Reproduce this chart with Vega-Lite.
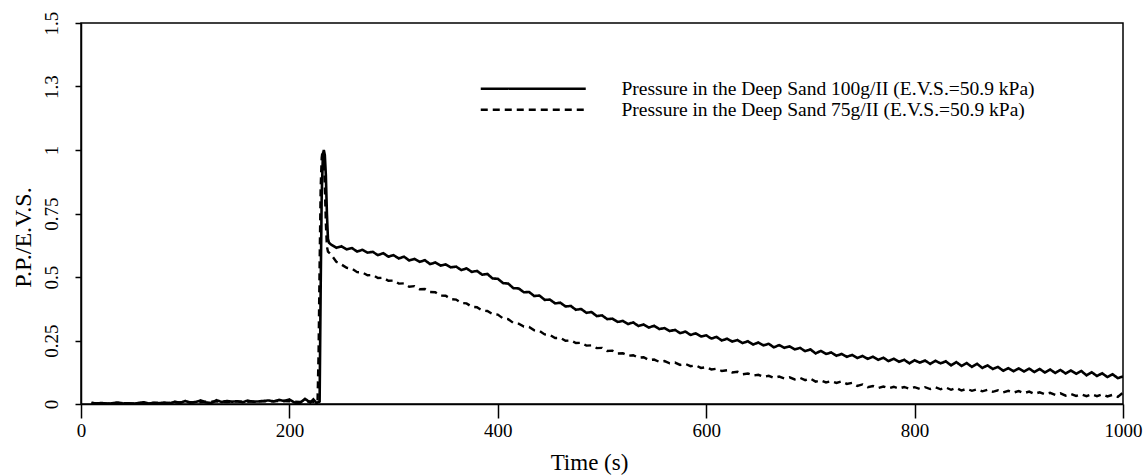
{
"$schema":"https://vega.github.io/schema/vega-lite/v6.json",
"width":1042,"height":381,
"autosize":{"type":"none"},
"padding":{"left":81,"top":23,"right":23,"bottom":72},
"background":"white",
"config":{"font":"Liberation Serif","view":{"stroke":"black","strokeWidth":1.5},
"axis":{"grid":false,"domainColor":"black","domainWidth":1.5,"tickColor":"black","tickWidth":1.5,"labelColor":"black","titleColor":"black","titleFontWeight":"normal","labelFlush":false,"labelOverlap":false}},
"data":{"values":[
{"s":"100","t":10,"v":0.005},{"s":"100","t":15,"v":0.002},{"s":"100","t":20,"v":0.004},{"s":"100","t":25,"v":0.001},{"s":"100","t":30,"v":0.003},{"s":"100","t":35,"v":0.006},{"s":"100","t":40,"v":0.002},{"s":"100","t":45,"v":0.003},{"s":"100","t":50,"v":0.001},{"s":"100","t":55,"v":0.004},{"s":"100","t":60,"v":0.007},{"s":"100","t":65,"v":0.002},{"s":"100","t":70,"v":0.004},{"s":"100","t":75,"v":0.003},{"s":"100","t":80,"v":0.006},{"s":"100","t":85,"v":0.002},{"s":"100","t":90,"v":0.009},{"s":"100","t":95,"v":0.004},{"s":"100","t":100,"v":0.012},{"s":"100","t":105,"v":0.005},{"s":"100","t":110,"v":0.008},{"s":"100","t":115,"v":0.014},{"s":"100","t":120,"v":0.006},{"s":"100","t":125,"v":0.004},{"s":"100","t":130,"v":0.015},{"s":"100","t":135,"v":0.008},{"s":"100","t":140,"v":0.012},{"s":"100","t":145,"v":0.009},{"s":"100","t":150,"v":0.011},{"s":"100","t":155,"v":0.007},{"s":"100","t":160,"v":0.013},{"s":"100","t":165,"v":0.009},{"s":"100","t":170,"v":0.010},{"s":"100","t":175,"v":0.012},{"s":"100","t":180,"v":0.014},{"s":"100","t":185,"v":0.010},{"s":"100","t":190,"v":0.016},{"s":"100","t":195,"v":0.012},{"s":"100","t":200,"v":0.018},{"s":"100","t":205,"v":0.006},{"s":"100","t":210,"v":0.004},{"s":"100","t":215,"v":0.020},{"s":"100","t":220,"v":0.006},{"s":"100","t":223,"v":0.018},{"s":"100","t":226,"v":0.004},{"s":"100","t":229,"v":0.010},{"s":"100","t":230,"v":0.45},{"s":"100","t":231,"v":0.82},{"s":"100","t":232,"v":0.96},{"s":"100","t":233,"v":1.0},{"s":"100","t":234,"v":0.98},{"s":"100","t":235,"v":0.90},{"s":"100","t":236,"v":0.75},{"s":"100","t":237,"v":0.65},{"s":"100","t":238,"v":0.635},
{"s":"100","t":240,"v":0.628},{"s":"100","t":245,"v":0.615},{"s":"100","t":250,"v":0.621},{"s":"100","t":255,"v":0.609},{"s":"100","t":260,"v":0.614},{"s":"100","t":265,"v":0.600},{"s":"100","t":270,"v":0.607},{"s":"100","t":275,"v":0.596},{"s":"100","t":280,"v":0.599},{"s":"100","t":285,"v":0.586},{"s":"100","t":290,"v":0.594},{"s":"100","t":295,"v":0.580},{"s":"100","t":300,"v":0.586},{"s":"100","t":305,"v":0.573},{"s":"100","t":310,"v":0.580},{"s":"100","t":315,"v":0.565},{"s":"100","t":320,"v":0.571},{"s":"100","t":325,"v":0.560},{"s":"100","t":330,"v":0.566},{"s":"100","t":335,"v":0.551},{"s":"100","t":340,"v":0.557},{"s":"100","t":345,"v":0.545},{"s":"100","t":350,"v":0.550},{"s":"100","t":355,"v":0.538},{"s":"100","t":360,"v":0.541},{"s":"100","t":365,"v":0.527},{"s":"100","t":370,"v":0.534},{"s":"100","t":375,"v":0.520},{"s":"100","t":380,"v":0.524},{"s":"100","t":385,"v":0.509},{"s":"100","t":390,"v":0.512},{"s":"100","t":395,"v":0.494},{"s":"100","t":400,"v":0.493},{"s":"100","t":405,"v":0.476},{"s":"100","t":410,"v":0.474},{"s":"100","t":415,"v":0.456},{"s":"100","t":420,"v":0.455},{"s":"100","t":425,"v":0.440},{"s":"100","t":430,"v":0.441},{"s":"100","t":435,"v":0.425},{"s":"100","t":440,"v":0.427},{"s":"100","t":445,"v":0.410},{"s":"100","t":450,"v":0.411},{"s":"100","t":455,"v":0.396},{"s":"100","t":460,"v":0.399},{"s":"100","t":465,"v":0.384},{"s":"100","t":470,"v":0.386},{"s":"100","t":475,"v":0.371},{"s":"100","t":480,"v":0.374},{"s":"100","t":485,"v":0.359},{"s":"100","t":490,"v":0.362},{"s":"100","t":495,"v":0.346},{"s":"100","t":500,"v":0.349},{"s":"100","t":505,"v":0.334},{"s":"100","t":510,"v":0.336},{"s":"100","t":515,"v":0.323},{"s":"100","t":520,"v":0.327},{"s":"100","t":525,"v":0.315},{"s":"100","t":530,"v":0.321},{"s":"100","t":535,"v":0.307},{"s":"100","t":540,"v":0.313},{"s":"100","t":545,"v":0.301},{"s":"100","t":550,"v":0.308},{"s":"100","t":555,"v":0.295},{"s":"100","t":560,"v":0.299},{"s":"100","t":565,"v":0.287},{"s":"100","t":570,"v":0.292},{"s":"100","t":575,"v":0.279},{"s":"100","t":580,"v":0.285},{"s":"100","t":585,"v":0.272},{"s":"100","t":590,"v":0.278},{"s":"100","t":595,"v":0.266},{"s":"100","t":600,"v":0.270},{"s":"100","t":605,"v":0.258},{"s":"100","t":610,"v":0.264},{"s":"100","t":615,"v":0.250},{"s":"100","t":620,"v":0.257},{"s":"100","t":625,"v":0.246},{"s":"100","t":630,"v":0.252},{"s":"100","t":635,"v":0.240},{"s":"100","t":640,"v":0.247},{"s":"100","t":645,"v":0.234},{"s":"100","t":650,"v":0.242},{"s":"100","t":655,"v":0.231},{"s":"100","t":660,"v":0.237},{"s":"100","t":665,"v":0.223},{"s":"100","t":670,"v":0.232},{"s":"100","t":675,"v":0.221},{"s":"100","t":680,"v":0.227},{"s":"100","t":685,"v":0.215},{"s":"100","t":690,"v":0.221},{"s":"100","t":695,"v":0.208},{"s":"100","t":700,"v":0.215},{"s":"100","t":705,"v":0.199},{"s":"100","t":710,"v":0.209},{"s":"100","t":715,"v":0.197},{"s":"100","t":720,"v":0.203},{"s":"100","t":725,"v":0.190},{"s":"100","t":730,"v":0.197},{"s":"100","t":735,"v":0.186},{"s":"100","t":740,"v":0.193},{"s":"100","t":745,"v":0.181},{"s":"100","t":750,"v":0.189},{"s":"100","t":755,"v":0.178},{"s":"100","t":760,"v":0.186},{"s":"100","t":765,"v":0.174},{"s":"100","t":770,"v":0.182},{"s":"100","t":775,"v":0.169},{"s":"100","t":780,"v":0.178},{"s":"100","t":785,"v":0.166},{"s":"100","t":790,"v":0.174},{"s":"100","t":795,"v":0.160},{"s":"100","t":800,"v":0.172},{"s":"100","t":805,"v":0.163},{"s":"100","t":810,"v":0.171},{"s":"100","t":815,"v":0.158},{"s":"100","t":820,"v":0.170},{"s":"100","t":825,"v":0.160},{"s":"100","t":830,"v":0.168},{"s":"100","t":835,"v":0.152},{"s":"100","t":840,"v":0.165},{"s":"100","t":845,"v":0.150},{"s":"100","t":850,"v":0.161},{"s":"100","t":855,"v":0.146},{"s":"100","t":860,"v":0.158},{"s":"100","t":865,"v":0.142},{"s":"100","t":870,"v":0.152},{"s":"100","t":875,"v":0.138},{"s":"100","t":880,"v":0.146},{"s":"100","t":885,"v":0.131},{"s":"100","t":890,"v":0.141},{"s":"100","t":895,"v":0.129},{"s":"100","t":900,"v":0.140},{"s":"100","t":905,"v":0.128},{"s":"100","t":910,"v":0.139},{"s":"100","t":915,"v":0.126},{"s":"100","t":920,"v":0.138},{"s":"100","t":925,"v":0.124},{"s":"100","t":930,"v":0.136},{"s":"100","t":935,"v":0.122},{"s":"100","t":940,"v":0.134},{"s":"100","t":945,"v":0.120},{"s":"100","t":950,"v":0.132},{"s":"100","t":955,"v":0.119},{"s":"100","t":960,"v":0.130},{"s":"100","t":965,"v":0.113},{"s":"100","t":970,"v":0.125},{"s":"100","t":975,"v":0.110},{"s":"100","t":980,"v":0.121},{"s":"100","t":985,"v":0.106},{"s":"100","t":990,"v":0.117},{"s":"100","t":995,"v":0.102},{"s":"100","t":1000,"v":0.108},
{"s":"75","t":10,"v":0.002},{"s":"75","t":20,"v":0.003},{"s":"75","t":30,"v":0.001},{"s":"75","t":40,"v":0.004},{"s":"75","t":50,"v":0.002},{"s":"75","t":60,"v":0.003},{"s":"75","t":70,"v":0.005},{"s":"75","t":80,"v":0.003},{"s":"75","t":90,"v":0.006},{"s":"75","t":100,"v":0.008},{"s":"75","t":110,"v":0.006},{"s":"75","t":120,"v":0.009},{"s":"75","t":130,"v":0.010},{"s":"75","t":140,"v":0.008},{"s":"75","t":150,"v":0.010},{"s":"75","t":160,"v":0.009},{"s":"75","t":170,"v":0.011},{"s":"75","t":180,"v":0.010},{"s":"75","t":190,"v":0.012},{"s":"75","t":200,"v":0.011},{"s":"75","t":210,"v":0.008},{"s":"75","t":220,"v":0.010},{"s":"75","t":227,"v":0.008},{"s":"75","t":228,"v":0.2},{"s":"75","t":229,"v":0.55},{"s":"75","t":230,"v":0.85},{"s":"75","t":231,"v":0.97},{"s":"75","t":232,"v":1.0},{"s":"75","t":233,"v":0.97},{"s":"75","t":234,"v":0.86},{"s":"75","t":235,"v":0.71},{"s":"75","t":236,"v":0.62},{"s":"75","t":237,"v":0.60},
{"s":"75","t":240,"v":0.588},{"s":"75","t":245,"v":0.560},{"s":"75","t":250,"v":0.549},{"s":"75","t":255,"v":0.536},{"s":"75","t":260,"v":0.533},{"s":"75","t":265,"v":0.519},{"s":"75","t":270,"v":0.518},{"s":"75","t":275,"v":0.507},{"s":"75","t":280,"v":0.508},{"s":"75","t":285,"v":0.496},{"s":"75","t":290,"v":0.497},{"s":"75","t":295,"v":0.485},{"s":"75","t":300,"v":0.486},{"s":"75","t":305,"v":0.474},{"s":"75","t":310,"v":0.475},{"s":"75","t":315,"v":0.462},{"s":"75","t":320,"v":0.464},{"s":"75","t":325,"v":0.452},{"s":"75","t":330,"v":0.453},{"s":"75","t":335,"v":0.441},{"s":"75","t":340,"v":0.440},{"s":"75","t":345,"v":0.427},{"s":"75","t":350,"v":0.426},{"s":"75","t":355,"v":0.413},{"s":"75","t":360,"v":0.411},{"s":"75","t":365,"v":0.398},{"s":"75","t":370,"v":0.396},{"s":"75","t":375,"v":0.383},{"s":"75","t":380,"v":0.381},{"s":"75","t":385,"v":0.368},{"s":"75","t":390,"v":0.366},{"s":"75","t":395,"v":0.354},{"s":"75","t":400,"v":0.352},{"s":"75","t":405,"v":0.337},{"s":"75","t":410,"v":0.334},{"s":"75","t":415,"v":0.319},{"s":"75","t":420,"v":0.316},{"s":"75","t":425,"v":0.305},{"s":"75","t":430,"v":0.303},{"s":"75","t":435,"v":0.290},{"s":"75","t":440,"v":0.288},{"s":"75","t":445,"v":0.274},{"s":"75","t":450,"v":0.272},{"s":"75","t":455,"v":0.260},{"s":"75","t":460,"v":0.260},{"s":"75","t":465,"v":0.249},{"s":"75","t":470,"v":0.250},{"s":"75","t":475,"v":0.240},{"s":"75","t":480,"v":0.241},{"s":"75","t":485,"v":0.230},{"s":"75","t":490,"v":0.231},{"s":"75","t":495,"v":0.220},{"s":"75","t":500,"v":0.221},{"s":"75","t":505,"v":0.209},{"s":"75","t":510,"v":0.210},{"s":"75","t":515,"v":0.199},{"s":"75","t":520,"v":0.200},{"s":"75","t":525,"v":0.190},{"s":"75","t":530,"v":0.192},{"s":"75","t":535,"v":0.182},{"s":"75","t":540,"v":0.184},{"s":"75","t":545,"v":0.173},{"s":"75","t":550,"v":0.175},{"s":"75","t":555,"v":0.166},{"s":"75","t":560,"v":0.169},{"s":"75","t":565,"v":0.160},{"s":"75","t":570,"v":0.163},{"s":"75","t":575,"v":0.154},{"s":"75","t":580,"v":0.158},{"s":"75","t":585,"v":0.149},{"s":"75","t":590,"v":0.152},{"s":"75","t":595,"v":0.142},{"s":"75","t":600,"v":0.145},{"s":"75","t":605,"v":0.136},{"s":"75","t":610,"v":0.139},{"s":"75","t":615,"v":0.130},{"s":"75","t":620,"v":0.133},{"s":"75","t":625,"v":0.124},{"s":"75","t":630,"v":0.127},{"s":"75","t":635,"v":0.117},{"s":"75","t":640,"v":0.120},{"s":"75","t":645,"v":0.112},{"s":"75","t":650,"v":0.115},{"s":"75","t":655,"v":0.107},{"s":"75","t":660,"v":0.111},{"s":"75","t":665,"v":0.103},{"s":"75","t":670,"v":0.108},{"s":"75","t":675,"v":0.101},{"s":"75","t":680,"v":0.105},{"s":"75","t":685,"v":0.097},{"s":"75","t":690,"v":0.103},{"s":"75","t":695,"v":0.094},{"s":"75","t":700,"v":0.100},{"s":"75","t":705,"v":0.088},{"s":"75","t":710,"v":0.093},{"s":"75","t":715,"v":0.085},{"s":"75","t":720,"v":0.090},{"s":"75","t":725,"v":0.083},{"s":"75","t":730,"v":0.089},{"s":"75","t":735,"v":0.079},{"s":"75","t":740,"v":0.083},{"s":"75","t":745,"v":0.071},{"s":"75","t":750,"v":0.077},{"s":"75","t":755,"v":0.066},{"s":"75","t":760,"v":0.071},{"s":"75","t":765,"v":0.063},{"s":"75","t":770,"v":0.069},{"s":"75","t":775,"v":0.062},{"s":"75","t":780,"v":0.068},{"s":"75","t":785,"v":0.061},{"s":"75","t":790,"v":0.067},{"s":"75","t":795,"v":0.060},{"s":"75","t":800,"v":0.066},{"s":"75","t":805,"v":0.059},{"s":"75","t":810,"v":0.066},{"s":"75","t":815,"v":0.059},{"s":"75","t":820,"v":0.066},{"s":"75","t":825,"v":0.058},{"s":"75","t":830,"v":0.065},{"s":"75","t":835,"v":0.056},{"s":"75","t":840,"v":0.063},{"s":"75","t":845,"v":0.053},{"s":"75","t":850,"v":0.060},{"s":"75","t":855,"v":0.052},{"s":"75","t":860,"v":0.058},{"s":"75","t":865,"v":0.050},{"s":"75","t":870,"v":0.056},{"s":"75","t":875,"v":0.048},{"s":"75","t":880,"v":0.054},{"s":"75","t":885,"v":0.046},{"s":"75","t":890,"v":0.052},{"s":"75","t":895,"v":0.045},{"s":"75","t":900,"v":0.051},{"s":"75","t":905,"v":0.043},{"s":"75","t":910,"v":0.049},{"s":"75","t":915,"v":0.040},{"s":"75","t":920,"v":0.046},{"s":"75","t":925,"v":0.038},{"s":"75","t":930,"v":0.044},{"s":"75","t":935,"v":0.036},{"s":"75","t":940,"v":0.042},{"s":"75","t":945,"v":0.033},{"s":"75","t":950,"v":0.039},{"s":"75","t":955,"v":0.032},{"s":"75","t":960,"v":0.038},{"s":"75","t":965,"v":0.031},{"s":"75","t":970,"v":0.038},{"s":"75","t":975,"v":0.031},{"s":"75","t":980,"v":0.038},{"s":"75","t":985,"v":0.030},{"s":"75","t":990,"v":0.036},{"s":"75","t":995,"v":0.028},{"s":"75","t":1000,"v":0.045}
]},
"mark":{"type":"line","color":"black","clip":true},
"encoding":{
"x":{"field":"t","type":"quantitative","scale":{"domain":[0,1000],"nice":false},
"axis":{"values":[0,200,400,600,800,1000],"format":"d","tickSize":14,"labelFontSize":19,"labelPadding":3,"title":"Time (s)","titleFontSize":23,"titleY":58,"titleBaseline":"middle","titleX":508}},
"y":{"field":"v","type":"quantitative","scale":{"domain":[0,1.5],"nice":false},
"axis":{"values":[0,0.25,0.5,0.75,1,1.25,1.5],"format":"~g","labelExpr":"datum.value==1.25?'1.3':datum.label","tickSize":6,"labelAngle":270,"labelAlign":"center","labelBaseline":"middle","labelPadding":24,"labelFontSize":19,"title":"P.P./E.V.S.","titleFontSize":24,"titleAngle":270,"titleX":-58,"titleY":214,"titleAlign":"center","titleBaseline":"middle"}},
"strokeWidth":{"field":"s","type":"nominal","scale":{"domain":["100","75"],"range":[2.6,2.4]},"legend":null},
"strokeDash":{"field":"s","type":"nominal","scale":{"domain":["100","75"],"range":[[1,0],[7,5]]},
"legend":{"orient":"none","legendX":390,"legendY":56,"title":null,"padding":0,"symbolType":"M0,0H13.125","symbolSize":256,"symbolStrokeWidth":2,"symbolStrokeColor":"black","labelFontSize":19.5,"labelColor":"black","labelOffset":131,"rowPadding":0,"labelLimit":0,
"labelExpr":"datum.value=='100'?'Pressure in the Deep Sand 100g/II (E.V.S.=50.9 kPa)':'Pressure in the Deep Sand 75g/II (E.V.S.=50.9 kPa)'"}}
}
}
